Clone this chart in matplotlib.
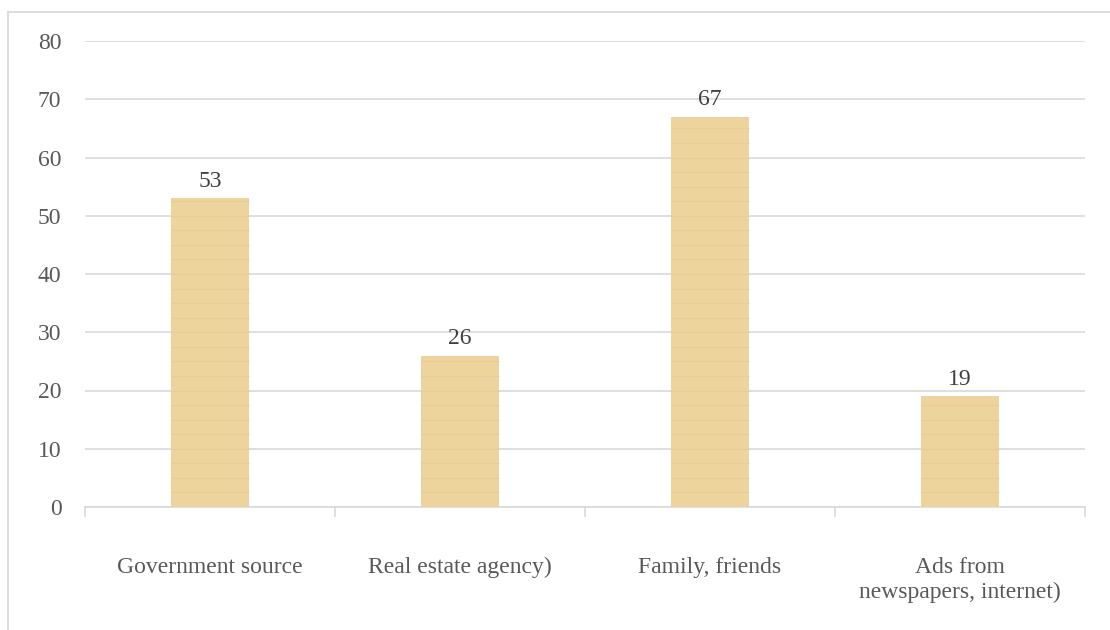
import matplotlib.pyplot as plt
from matplotlib.patches import Rectangle

# chart data
categories = ["Government source", "Real estate agency)", "Family, friends",
              "Ads from\nnewspapers, internet)"]
values = [53, 26, 67, 19]
y_ticks = [0, 10, 20, 30, 40, 50, 60, 70, 80]

plt.rcParams['font.family'] = ['Liberation Serif', 'DejaVu Serif']
text_col = '#595959'
grid_col = '#D9D9D9'
fs = 17

fig = plt.figure(figsize=(11.1, 6.3), dpi=100)
# outer chart border (opens past right/bottom like the screenshot)
fig.patches.append(Rectangle((8 / 1110, -0.05), 1.2, (630 - 12) / 630 + 0.05,
                             transform=fig.transFigure, fill=False,
                             edgecolor=grid_col, linewidth=1.3))

ax = fig.add_axes([85 / 1110, (630 - 507) / 630, 1000 / 1110, 466 / 630])
x = range(len(categories))
bars = ax.bar(x, values, width=0.31, color='#ECD49C', edgecolor='none', zorder=3)

# faint horizontal fibre stripes to hint at the papyrus texture
for b in bars:
    h = b.get_height()
    for k in range(1, int(h // 2.5) + 1):
        yy = k * 2.5
        ax.plot([b.get_x(), b.get_x() + b.get_width()], [yy, yy],
                color='#D9BE82', alpha=0.3, linewidth=0.8, zorder=4)

for i, v in enumerate(values):
    ax.text(i, v + 1.1, str(v), ha='center', va='bottom',
            fontsize=fs, color='#404040')

ax.set_xlim(-0.5, len(categories) - 0.5)
ax.set_ylim(0, 80)
ax.set_yticks(y_ticks)
ax.yaxis.grid(True, color=grid_col, linewidth=1.2, zorder=0)
ax.set_axisbelow(True)
for s in ['top', 'right', 'left']:
    ax.spines[s].set_visible(False)
ax.spines['bottom'].set_color(grid_col)
ax.spines['bottom'].set_linewidth(1.2)

ax.tick_params(axis='y', length=0, pad=17, labelsize=fs, labelcolor=text_col)
ax.set_xticks([i - 0.5 for i in range(len(categories) + 1)])
ax.set_xticklabels([])
ax.tick_params(axis='x', which='major', length=7, color=grid_col, width=1.2)
ax.set_xticks(list(x), minor=True)
ax.set_xticklabels(categories, minor=True, fontsize=fs, color=text_col)
ax.tick_params(axis='x', which='minor', length=0, pad=36)
for lab in ax.get_xticklabels(minor=True):
    lab.set_linespacing(1.25)
    lab.set_verticalalignment('top')

fig.savefig('out.png', dpi=100)
